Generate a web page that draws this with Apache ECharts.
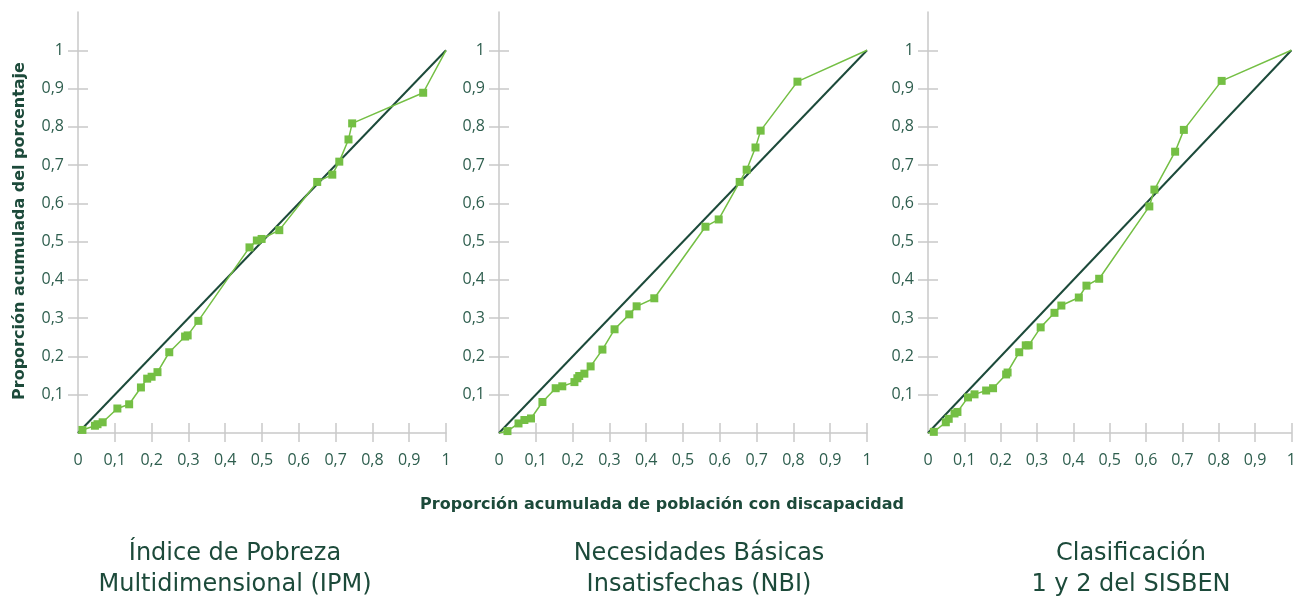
<!DOCTYPE html>
<html><head><meta charset="utf-8">
<script src="https://cdn.jsdelivr.net/npm/echarts@6/dist/echarts.min.js"></script>
<style>html,body{margin:0;padding:0;background:#fff}#c{width:1299px;height:596px}</style>
</head><body><div id="c"></div>
<script>
// ---- data ----
const ipmX = [0, 0.012, 0.046, 0.053, 0.067, 0.107, 0.139, 0.171, 0.188, 0.200, 0.216, 0.248, 0.291, 0.298, 0.327, 0.466, 0.486, 0.499, 0.547, 0.650, 0.691, 0.710, 0.735, 0.745, 0.938, 1];
const ipmY = [0, 0.008, 0.019, 0.023, 0.028, 0.064, 0.075, 0.119, 0.142, 0.147, 0.159, 0.211, 0.252, 0.255, 0.293, 0.485, 0.503, 0.507, 0.530, 0.656, 0.675, 0.709, 0.767, 0.809, 0.889, 1];
const nbiX = [0, 0.023, 0.053, 0.069, 0.087, 0.118, 0.154, 0.172, 0.205, 0.213, 0.218, 0.232, 0.249, 0.281, 0.314, 0.354, 0.374, 0.422, 0.561, 0.597, 0.654, 0.673, 0.697, 0.711, 0.811, 1];
const nbiY = [0, 0.005, 0.025, 0.034, 0.038, 0.081, 0.117, 0.122, 0.133, 0.143, 0.149, 0.155, 0.174, 0.218, 0.271, 0.310, 0.331, 0.352, 0.539, 0.558, 0.656, 0.688, 0.746, 0.790, 0.918, 1];
const sisX = [0, 0.016, 0.049, 0.057, 0.073, 0.081, 0.110, 0.128, 0.160, 0.179, 0.215, 0.219, 0.251, 0.269, 0.277, 0.310, 0.348, 0.367, 0.415, 0.436, 0.471, 0.609, 0.623, 0.680, 0.704, 0.808, 1];
const sisY = [0, 0.003, 0.028, 0.037, 0.051, 0.055, 0.093, 0.101, 0.111, 0.117, 0.153, 0.158, 0.211, 0.229, 0.229, 0.276, 0.314, 0.333, 0.354, 0.385, 0.403, 0.592, 0.636, 0.735, 0.792, 0.920, 1];
const diagonal = [[0, 0], [1, 1]];
const tickValues = [0.1, 0.2, 0.3, 0.4, 0.5, 0.6, 0.7, 0.8, 0.9, 1];
const xLabelValues = [0, 0.1, 0.2, 0.3, 0.4, 0.5, 0.6, 0.7, 0.8, 0.9, 1];
const panelTitles = ['Índice de Pobreza\nMultidimensional (IPM)', 'Necesidades Básicas\nInsatisfechas (NBI)', 'Clasificación\n1 y 2 del SISBEN'];
const yTitle = 'Proporción acumulada del porcentaje';
const xTitle = 'Proporción acumulada de población con discapacidad';

// ---- chart ----
const FONT = '"Open Sans", "Noto Sans", sans-serif';
const TFONT = '"DejaVu Sans", "Open Sans", sans-serif';
const LABEL = '#2e5e4e', DARK = '#1c4a3a', GREEN = '#74bf44', AXIS = '#c9c9c9';
const fmt = v => (v === 0 ? '0' : String(Math.round(v * 10) / 10).replace('.', ','));
const lefts = [78, 499, 928];
const seriesData = [[ipmX, ipmY], [nbiX, nbiY], [sisX, sisY]];

const grid = [], xAxis = [], yAxis = [], series = [];
lefts.forEach((l, i) => {
  grid.push({left: l, top: 12, width: 368, height: 421});
  xAxis.push({type: 'value', gridIndex: i, min: 0, max: 1, interval: 0.1,
    axisLine: {show: true, lineStyle: {color: AXIS, width: 1.5}},
    axisTick: {show: true, length: 9, customValues: tickValues, lineStyle: {color: AXIS, width: 1.5}},
    axisLabel: {show: true, customValues: xLabelValues, formatter: fmt, color: LABEL, fontSize: 16, fontFamily: FONT, margin: 19},
    splitLine: {show: false}});
  xAxis.push({type: 'value', gridIndex: i, min: 0, max: 1, interval: 0.1, position: 'bottom',
    axisLine: {show: false},
    axisTick: {show: true, inside: true, length: 10, customValues: tickValues, lineStyle: {color: AXIS, width: 1.5}},
    axisLabel: {show: false}, splitLine: {show: false}});
  yAxis.push({type: 'value', gridIndex: i, min: 0, max: 1.1, interval: 0.1,
    axisLine: {show: true, lineStyle: {color: AXIS, width: 1.5}},
    axisTick: {show: true, length: 10, customValues: tickValues, lineStyle: {color: AXIS, width: 1.5}},
    axisLabel: {show: true, customValues: tickValues, formatter: fmt, color: LABEL, fontSize: 16, fontFamily: FONT, margin: 14},
    splitLine: {show: false}});
  yAxis.push({type: 'value', gridIndex: i, min: 0, max: 1.1, interval: 0.1, position: 'left',
    axisLine: {show: false},
    axisTick: {show: true, inside: true, length: 10, customValues: tickValues, lineStyle: {color: AXIS, width: 1.5}},
    axisLabel: {show: false}, splitLine: {show: false}});
  series.push({type: 'line', xAxisIndex: i * 2, yAxisIndex: i * 2, data: diagonal, symbol: 'none',
    lineStyle: {color: DARK, width: 2}, z: 3, silent: true, animation: false});
  const [xs, ys] = seriesData[i];
  series.push({type: 'line', xAxisIndex: i * 2, yAxisIndex: i * 2,
    data: xs.map((x, k) => {
      const end = (k === 0 || k === xs.length - 1);
      return end ? {value: [x, ys[k]], symbol: 'none'} : [x, ys[k]];
    }),
    symbol: 'rect', symbolSize: 8, itemStyle: {color: GREEN},
    lineStyle: {color: GREEN, width: 1.5}, z: 4, animation: false});
});

const title = [
  {text: xTitle, left: 657, top: 492, textAlign: 'center',
   textStyle: {fontFamily: TFONT, fontSize: 16, fontWeight: 'bold', color: DARK}},
];
const centers = [230, 694, 1126];
panelTitles.forEach((t, i) => title.push({text: t, left: centers[i], top: 533, textAlign: 'center',
  textStyle: {fontFamily: TFONT, fontSize: 24, fontWeight: 'normal', color: DARK, lineHeight: 31}}));

const chart = echarts.init(document.getElementById('c'), null, {renderer: 'canvas'});
chart.setOption({
  backgroundColor: '#fff',
  animation: false,
  title, grid, xAxis, yAxis, series,
  graphic: [{type: 'text', x: 20, y: 231, rotation: Math.PI / 2,
    style: {text: yTitle, font: 'bold 16px ' + TFONT, fill: DARK, textAlign: 'center', textVerticalAlign: 'middle'}}]
});
</script></body></html>
